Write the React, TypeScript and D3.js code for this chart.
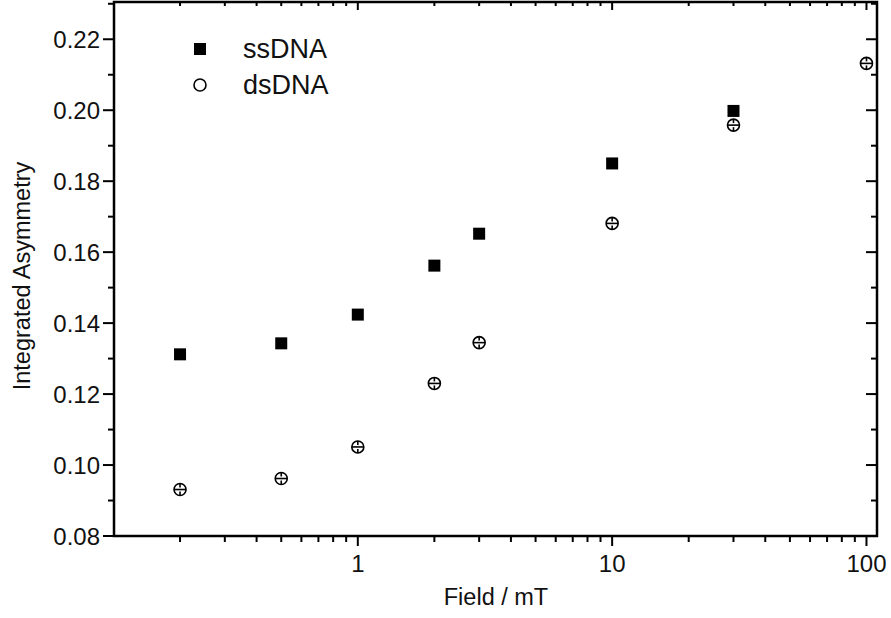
import { useRef, useEffect } from 'react'
import * as d3 from 'd3'

// field values in mT
const fields = [0.2, 0.5, 1, 2, 3, 10, 30]
const ssDNA = [0.1312, 0.1343, 0.1424, 0.1562, 0.1652, 0.1850, 0.1998]
const dsFields = [0.2, 0.5, 1, 2, 3, 10, 30, 100]
const dsDNA = [0.0931, 0.0962, 0.1051, 0.1230, 0.1345, 0.1681, 0.1958, 0.2132]
const yTicks = [0.08, 0.10, 0.12, 0.14, 0.16, 0.18, 0.20, 0.22]
const xTickLabels = [1, 10, 100]

const W = 891
const H = 618
const FONT = "'Liberation Sans', Arial, sans-serif"

export default function App() {
  const svgRef = useRef<SVGSVGElement>(null)

  useEffect(() => {
    const svg = svgRef.current
    if (!svg) return
    const margin = { top: 2, right: 14, bottom: 82, left: 114 }
    const iW = W - margin.left - margin.right
    const iH = H - margin.top - margin.bottom

    const sel = d3.select(svg)
    sel.selectAll('*').remove()
    const g = sel.append('g').attr('transform', `translate(${margin.left},${margin.top})`)

    const x = d3.scaleLog().domain([0.11, 110]).range([0, iW])
    const y = d3.scaleLinear().domain([0.08, 0.2305]).range([iH, 0])

    // minor ticks on the log axis
    const minor: number[] = []
    for (const dec of [0.1, 1, 10, 100]) {
      for (let k = 1; k <= 9; k++) {
        const v = dec * k
        if (v >= 0.11 && v <= 110) minor.push(v)
      }
    }
    const yMinor = d3.range(0.09, 0.231, 0.02)

    const stroke = '#000'
    const tick = (x1: number, y1: number, x2: number, y2: number) =>
      g.append('line').attr('x1', x1).attr('y1', y1).attr('x2', x2).attr('y2', y2)
        .attr('stroke', stroke).attr('stroke-width', 2)

    minor.forEach((v) => {
      const major = xTickLabels.includes(v)
      const px = x(v)
      tick(px, iH, px, iH + (major ? 10 : 6))
      tick(px, 0, px, major ? 8 : 4)
    })
    yTicks.forEach((v) => {
      tick(-11, y(v), 0, y(v))
      tick(iW - 11, y(v), iW, y(v))
    })
    yMinor.forEach((v) => {
      tick(-6, y(v), 0, y(v))
      tick(iW - 6, y(v), iW, y(v))
    })

    g.append('rect').attr('x', 0).attr('y', 0).attr('width', iW).attr('height', iH)
      .attr('fill', 'none').attr('stroke', stroke).attr('stroke-width', 2.5)

    yTicks.forEach((v) => {
      g.append('text').attr('x', -14).attr('y', y(v)).attr('text-anchor', 'end')
        .attr('dominant-baseline', 'central').attr('font-family', FONT).attr('font-size', '24px')
        .attr('fill', '#111').text(v.toFixed(2))
    })
    xTickLabels.forEach((v) => {
      g.append('text').attr('x', x(v)).attr('y', iH + 27).attr('text-anchor', 'middle')
        .attr('dominant-baseline', 'central').attr('font-family', FONT).attr('font-size', '24px')
        .attr('fill', '#111').text(v)
    })

    sel.append('text').attr('x', 496).attr('y', 597).attr('text-anchor', 'middle')
      .attr('dominant-baseline', 'central').attr('font-family', FONT).attr('font-size', '23.5px')
      .attr('fill', '#111').text('Field / mT')
    sel.append('text').attr('transform', `translate(22,${276}) rotate(-90)`)
      .attr('text-anchor', 'middle').attr('dominant-baseline', 'central')
      .attr('font-family', FONT).attr('font-size', '23.5px').attr('fill', '#111')
      .text('Integrated Asymmetry')

    const square = (gg: d3.Selection<SVGGElement, unknown, null, undefined>, cx: number, cy: number) =>
      gg.append('rect').attr('x', cx - 6).attr('y', cy - 6).attr('width', 12).attr('height', 12).attr('fill', '#000')
    const circle = (gg: d3.Selection<SVGGElement, unknown, null, undefined>, cx: number, cy: number, bars: boolean) => {
      gg.append('circle').attr('cx', cx).attr('cy', cy).attr('r', 6)
        .attr('fill', '#fff').attr('stroke', '#000').attr('stroke-width', 1.6)
      if (bars) {
        gg.append('line').attr('x1', cx - 6).attr('x2', cx + 6).attr('y1', cy).attr('y2', cy)
          .attr('stroke', '#000').attr('stroke-width', 1.6)
        gg.append('line').attr('x1', cx).attr('x2', cx).attr('y1', cy - 6).attr('y2', cy - 2)
          .attr('stroke', '#000').attr('stroke-width', 1.6)
        gg.append('line').attr('x1', cx).attr('x2', cx).attr('y1', cy + 2).attr('y2', cy + 6)
          .attr('stroke', '#000').attr('stroke-width', 1.6)
      }
    }

    fields.forEach((f, i) => square(g, x(f), y(ssDNA[i])))
    dsFields.forEach((f, i) => circle(g, x(f), y(dsDNA[i]), true))

    // legend
    const lg = sel.append('g')
    square(lg, 200, 49)
    circle(lg, 200, 85, false)
    lg.append('text').attr('x', 243).attr('y', 49).attr('dominant-baseline', 'central')
      .attr('font-family', FONT).attr('font-size', '27px').attr('fill', '#111').text('ssDNA')
    lg.append('text').attr('x', 243).attr('y', 85).attr('dominant-baseline', 'central')
      .attr('font-family', FONT).attr('font-size', '27px').attr('fill', '#111').text('dsDNA')
  }, [])

  return (
    <svg ref={svgRef} width={W} height={H}
      style={{ position: 'absolute', left: 0, top: 0, background: '#fff' }} />
  )
}
